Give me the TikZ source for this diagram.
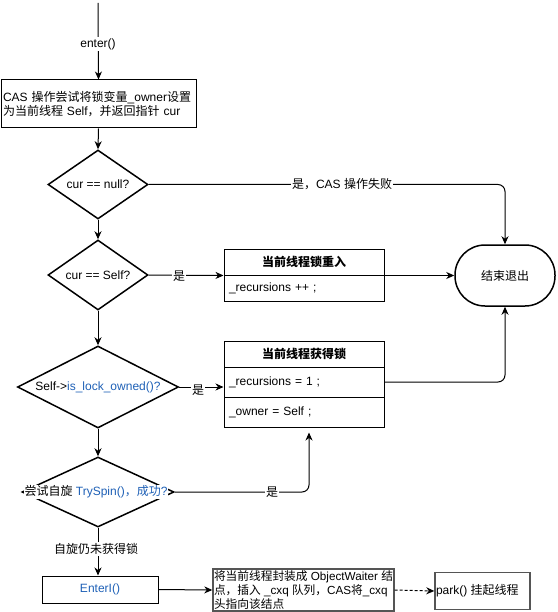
\documentclass[tikz,border=0pt]{standalone}
\usepackage{fontspec}
\setmainfont{Liberation Sans}
\newfontfamily\cjkf{Noto Sans CJK SC}
\newcommand\zh[1]{{\cjkf #1}}
\usetikzlibrary{arrows.meta,shapes.geometric}
\definecolor{codeblue}{RGB}{30,96,182}
\definecolor{boxgray}{RGB}{85,85,85}
\tikzset{
  base/.style={font=\fontsize{12}{14}\selectfont},
  box/.style={base, draw, line width=1pt, inner sep=0pt},
  rowbox/.style={box, minimum width=160pt, text width=150pt, inner xsep=5pt, align=left},
  dia/.style={draw, diamond, line width=1.5pt, inner sep=0pt},
  arr/.style={line width=1pt, -{Stealth[length=8pt,width=7pt,inset=2.5pt]}},
  lbl/.style={base, fill=white, inner sep=1pt},
  txt/.style={base, inner sep=0pt},
  graybox/.style={base, draw=boxgray, line width=1.4pt, inner sep=0pt},
}
\begin{document}
\begin{tikzpicture}[x=1pt,y=-1pt]
\useasboundingbox (0,0) rectangle (557,612);

% nodes
\coordinate (start) at (98,3);
\node[box, minimum width=195pt, minimum height=48pt, text width=191pt, inner xsep=2pt, align=left] (cas) at (98.5,104)
  {CAS \zh{操作尝试将锁变量}\_owner\zh{设置}\\\zh{为当前线程} Self\zh{，并返回指针} cur};

\node[dia, minimum width=100pt, minimum height=69pt] (d1) at (98,184.5) {};
\node[txt] at (d1) {cur == null?};

\node[dia, minimum width=100pt, minimum height=70pt] (d2) at (98,275) {};
\node[txt] at (d2) {cur == Self?};

\node[dia, minimum width=161pt, minimum height=82pt] (d3) at (98,387) {};
\node[txt] at (d3) {Self->\textcolor{codeblue}{is\_lock\_owned()?}};

\node[dia, minimum width=152pt, minimum height=70pt] (d4) at (98,492) {};

% box 1
\node[box, minimum width=160pt, minimum height=26pt] (b1t) at (304,262) {\zh{\bfseries 当前线程锁重入}};
\node[rowbox, minimum height=26pt] (b1b) at (304,288) {\_recursions ++ ;};

% box 2
\node[box, minimum width=160pt, minimum height=26pt] (b2t) at (304,354) {\zh{\bfseries 当前线程获得锁}};
\node[rowbox, minimum height=30pt] (b2m) at (304,382) {\_recursions = 1 ;};
\node[rowbox, minimum height=30pt] (b2b) at (304,412) {\_owner = Self ;};

% terminal
\node[base, draw, line width=1.5pt, rounded corners=30pt, minimum width=100pt, minimum height=61pt] (term) at (505,275.5) {\zh{结束退出}};

% bottom row
\node[box, minimum width=116pt, minimum height=27pt] (enterI) at (100,589.5) {\textcolor{codeblue}{EnterI()}};
\node[graybox, minimum width=181pt, minimum height=42pt] (b3) at (303.5,590) {};
\node[txt, anchor=west, align=left, font=\fontsize{11.7}{14}\selectfont] (b3text) at ([xshift=1.5pt]b3.west)
  {\zh{将当前线程封装成} ObjectWaiter \zh{结}\\\zh{点，插入} \_cxq \zh{队列，}CAS\zh{将}\_cxq\\\zh{头指向该结点}};
\node[graybox, minimum width=95pt, minimum height=37pt] (b4) at (482.5,591) {};
\node[txt, anchor=west] (b4text) at ([xshift=1.5pt]b4.west) {park() \zh{挂起线程}};

% connectors
\draw[arr] (start) -- (cas.north);
\node[lbl] at (98,44) {enter()};
\draw[arr] (cas.south) -- (d1.north);
\draw[arr] (d1.south) -- (d2.north);
\draw[arr] (d2.south) -- (d3.north);
\draw[arr] (d3.south) -- (d4.north);
\draw[arr] (d4.south) -- (d4.south |- enterI.north);
\node[lbl] at (96,549) {\zh{自旋仍未获得锁}};

\draw[arr, rounded corners=7pt] (d1.east) -| (term.north);
\node[lbl] at (342,184) {\zh{是，}CAS \zh{操作失败}};

\draw[arr] (d2.east) -- (b1t.south west);
\node[lbl] at (179,276) {\zh{是}};
\draw[arr] (b1t.south east) -- (term.west);

\draw[arr] (d3.east) -- (d3.east -| b2m.west);
\node[lbl] at (198,390) {\zh{是}};
\draw[arr, rounded corners=7pt] (b2m.east) -| (term.south);

\draw[arr, rounded corners=7pt, shorten >=5pt] (d4.east) -| ([xshift=5pt]b2b.south);
\node[lbl] at (272,492) {\zh{是}};

% D4 label covering the diamond's side vertices
\node[lbl, inner sep=0.5pt] (d4text) at (96,492) {\zh{尝试自旋} \textcolor{codeblue}{TrySpin()\zh{，成功}?}};

\draw[arr] (enterI.east) -- (b3.west);
\draw[arr, dashed, dash pattern=on 3pt off 2pt] (b3.east) -- (b4.west);
\end{tikzpicture}
\end{document}
